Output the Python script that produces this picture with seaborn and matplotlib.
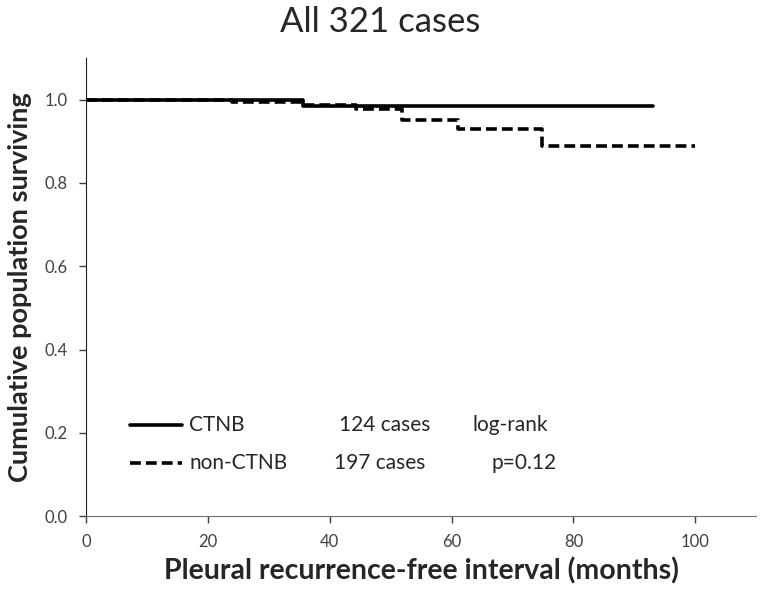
import matplotlib
matplotlib.use("Agg")
import matplotlib.pyplot as plt
import seaborn as sns
import pandas as pd

# Kaplan-Meier step data
ctnb_months = [0, 35.6, 93]
ctnb_surv = [1.0, 0.986, 0.986]

non_months = [0, 24, 35.6, 44.4, 51.8, 61.0, 74.8, 100]
non_surv = [1.0, 0.995, 0.988, 0.978, 0.950, 0.930, 0.889, 0.889]

groups = ["CTNB", "non-CTNB"]
n_cases = [124, 197]
stat_text = ["log-rank", "p=0.12"]
x_ticks = [0, 20, 40, 60, 80, 100]
y_ticks = [0.0, 0.2, 0.4, 0.6, 0.8, 1.0]

df = pd.concat([
    pd.DataFrame({"months": ctnb_months, "surv": ctnb_surv, "group": groups[0]}),
    pd.DataFrame({"months": non_months, "surv": non_surv, "group": groups[1]}),
])

sns.set_style("white")
plt.rcParams["font.family"] = ["Lato", "DejaVu Sans"]

fig = plt.figure(figsize=(7.6, 5.92), dpi=100)
ax = fig.add_axes([0.113, 0.128, 0.882, 0.774])

styles = {"CTNB": "-", "non-CTNB": (0, (3.0, 1.4))}
for g in groups:
    sub = df[df["group"] == g]
    sns.lineplot(data=sub, x="months", y="surv", ax=ax, color="black",
                 drawstyle="steps-post", linewidth=2.6, linestyle=styles[g],
                 estimator=None, sort=False, legend=False)

ax.set_xlim(0, 110)
ax.set_ylim(0, 1.1)
ax.set_xticks(x_ticks)
ax.set_yticks(y_ticks)
ax.set_yticklabels([f"{v:.1f}" for v in y_ticks])
ax.tick_params(axis="both", bottom=True, left=True, direction="out", length=5,
               width=1, colors="#404040", labelsize=12, pad=8)
for s in ["top", "right"]:
    ax.spines[s].set_visible(False)
ax.spines["left"].set_color("#202020")
ax.spines["bottom"].set_color("#707070")

ax.set_xlabel("Pleural recurrence-free interval (months)", fontsize=20.5,
              fontweight="bold", labelpad=5)
ax.set_ylabel("Cumulative population surviving", fontsize=19.5,
              fontweight="bold", labelpad=9)
fig.text(0.5, 0.963, "All 321 cases", ha="center", va="center", fontsize=25)

# legend drawn as text block
leg_y = [0.22, 0.128]
for i, g in enumerate(groups):
    y = leg_y[i]
    ax.plot([7.2, 15.8], [y, y], color="black", linewidth=2.6,
            linestyle=styles[g], transform=ax.transData)
    ax.text(17, y, g, fontsize=15, va="center")
    ax.text(41.5 - (0.8 if i else 0), y, f"{n_cases[i]} cases", fontsize=15, va="center")
    ax.text(63.5 if i == 0 else 66.5, y, stat_text[i], fontsize=15, va="center")

fig.savefig("out.png", dpi=100)
